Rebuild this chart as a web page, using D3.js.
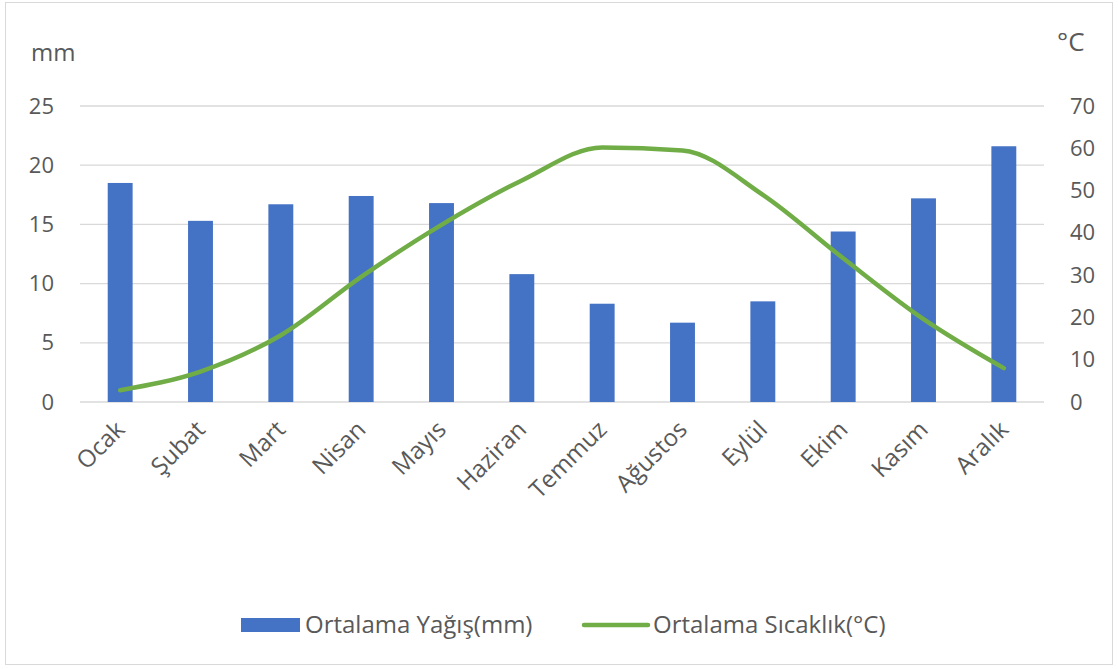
<!DOCTYPE html>
<html lang="tr">
<head>
  <meta charset="UTF-8" />
  <title>Ortalama Yağış ve Sıcaklık</title>
  <script src="https://d3js.org/d3.v7.min.js"></script>
  <style>
    body { margin: 0; background: #fff; }
    svg { display: block; }
    text { font-family: "Open Sans", sans-serif; fill: #595959; }
  </style>
</head>
<body>
  <svg width="1118" height="669"></svg>
  <script>
    // data
    const months = ["Ocak", "Şubat", "Mart", "Nisan", "Mayıs", "Haziran",
                    "Temmuz", "Ağustos", "Eylül", "Ekim", "Kasım", "Aralık"];
    const rainfall = [18.5, 15.3, 16.7, 17.4, 16.8, 10.8, 8.3, 6.7, 8.5, 14.4, 17.2, 21.6];
    const temperature = [2.8, 7.2, 15.8, 29.6, 41.9, 52.4, 60.2, 59.5, 49, 34, 19.6, 8];
    const leftTicks = [0, 5, 10, 15, 20, 25];
    const rightTicks = [0, 10, 20, 30, 40, 50, 60, 70];

    const svg = d3.select("svg");
    const plotLeft = 80, plotRight = 1044, plotTop = 106, plotBottom = 402;

    // chart border
    svg.append("rect")
      .attr("x", 5.5).attr("y", 2.5)
      .attr("width", 1107).attr("height", 662)
      .attr("fill", "none").attr("stroke", "#d9d9d9");

    const x = d3.scaleBand().domain(months).range([plotLeft, plotRight]).paddingInner(0.69).paddingOuter(0.345);
    const yL = d3.scaleLinear().domain([0, 25]).range([plotBottom, plotTop]);
    const yR = d3.scaleLinear().domain([0, 70]).range([plotBottom, plotTop]);

    // gridlines
    svg.append("g")
      .selectAll("line")
      .data(leftTicks)
      .join("line")
      .attr("x1", plotLeft).attr("x2", plotRight)
      .attr("y1", d => yL(d)).attr("y2", d => yL(d))
      .attr("stroke", "#d9d9d9").attr("stroke-width", 1.3);

    // left axis
    const axL = svg.append("g")
      .attr("transform", `translate(${plotLeft - 26},0)`)
      .call(d3.axisLeft(yL).tickValues(leftTicks).tickSize(0).tickPadding(0));
    axL.select(".domain").remove();
    axL.selectAll("text").style("font-size", "22px").style("fill", "#595959");

    // right axis
    const axR = svg.append("g")
      .attr("transform", `translate(${plotRight + 26},0)`)
      .call(d3.axisRight(yR).tickValues(rightTicks).tickSize(0).tickPadding(0));
    axR.select(".domain").remove();
    axR.selectAll("text").style("font-size", "22px").style("fill", "#595959");

    // unit titles
    svg.append("text").attr("x", 31).attr("y", 61).style("font-size", "24px").text("mm");
    svg.append("text").attr("x", 1057).attr("y", 51).style("font-size", "26px").text("°C");

    // bars
    svg.append("g")
      .selectAll("rect")
      .data(rainfall)
      .join("rect")
      .attr("x", (d, i) => x(months[i]))
      .attr("y", d => yL(d))
      .attr("width", x.bandwidth())
      .attr("height", d => plotBottom - yL(d))
      .attr("fill", "#4472c4");

    // temperature line
    const line = d3.line()
      .x((d, i) => x(months[i]) + x.bandwidth() / 2)
      .y(d => yR(d))
      .curve(d3.curveMonotoneX);
    svg.append("path")
      .datum(temperature)
      .attr("d", line)
      .attr("fill", "none")
      .attr("stroke", "#70ad47")
      .attr("stroke-width", 4.5)
      .attr("stroke-linecap", "round")
      .attr("stroke-linejoin", "round");

    // month labels
    svg.append("g")
      .selectAll("text")
      .data(months)
      .join("text")
      .attr("text-anchor", "end")
      .attr("transform", d => `translate(${x(d) + x.bandwidth() / 2 + 6},${plotBottom + 29}) rotate(-45)`)
      .style("font-size", "24px")
      .text(d => d);

    // legend
    const lg = svg.append("g").attr("transform", "translate(0,625)");
    lg.append("rect").attr("x", 241).attr("y", -7).attr("width", 59).attr("height", 14).attr("fill", "#4472c4");
    lg.append("text").attr("x", 305).attr("y", 8).style("font-size", "24px").text("Ortalama Yağış(mm)");
    lg.append("line").attr("x1", 584).attr("x2", 648).attr("y1", 0).attr("y2", 0)
      .attr("stroke", "#70ad47").attr("stroke-width", 4.5).attr("stroke-linecap", "round");
    lg.append("text").attr("x", 653).attr("y", 8).style("font-size", "24px").text("Ortalama Sıcaklık(°C)");
  </script>
</body>
</html>
